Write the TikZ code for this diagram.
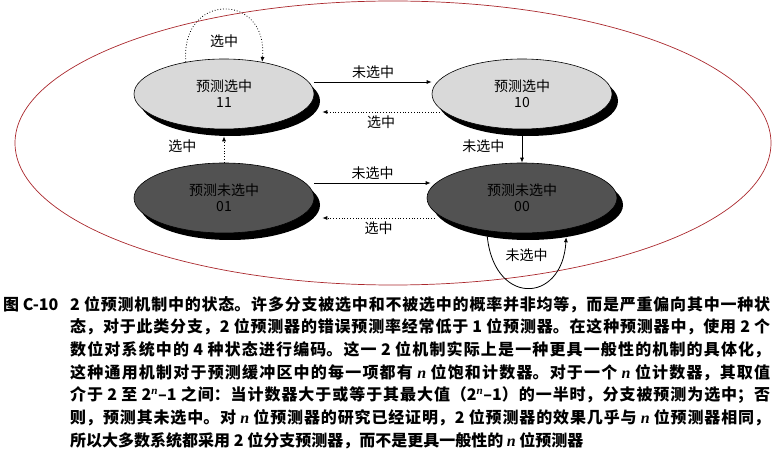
\documentclass[tikz,border=0pt]{standalone}
\usepackage{fontspec}
\setmainfont{Noto Sans CJK SC}
\newfontfamily\latinserif{Liberation Serif}
\usetikzlibrary{arrows.meta,shapes.geometric,shadows}

\XeTeXlinebreaklocale "zh"
\XeTeXlinebreakskip=0pt plus 3pt

\definecolor{rim}{RGB}{170,40,45}
\newcommand{\nbit}{{\latinserif\bfseries\itshape n}}

\tikzset{
  state/.style={ellipse, draw, line width=0.6pt, minimum width=180pt, minimum height=70pt,
    align=center, text=black, font=\fontsize{14}{16}\selectfont,
    drop shadow={shadow xshift=6pt, shadow yshift=-7pt, fill=black, opacity=1}},
  taken/.style={->, dotted, line width=0.8pt},
  nottaken/.style={->, line width=0.8pt},
}

\begin{document}
\begin{tikzpicture}[x=1pt, y=-1pt, >={Latex[length=5pt,width=4pt]}]
        \useasboundingbox (0,0) rectangle (774,465);

        % outline
        \draw[rim, line width=0.7pt] (393,143) ellipse [x radius=378, y radius=142];

        \begin{scope}[every node/.style={state}]
          \node[fill=black!15] (s11) at (224,94)  {预测选中\\11};
          \node[fill=black!15] (s10) at (522,94)  {预测选中\\10};
          \node[fill=black!68] (s01) at (224,198) {预测未选中\\01};
          \node[fill=black!68, minimum width=190pt] (s00) at (522,198) {预测未选中\\00};
        \end{scope}

        \begin{scope}[every node/.style={font=\fontsize{14}{16}\selectfont}]
          \path ([yshift=12pt]s11.east) edge[nottaken] node[above] {未选中} ([yshift=12pt]s10.west);
          \path ([xshift=8pt,yshift=-18pt]s10.west) edge[taken] node[below] {选中} ([xshift=8pt,yshift=-18pt]s11.east);
          \path ([yshift=15pt]s01.east) edge[nottaken] node[above] {未选中} ([xshift=4pt,yshift=15pt]s00.west);
          \path ([xshift=8pt,yshift=-20pt]s00.west) edge[taken] node[below] {选中} ([xshift=8pt,yshift=-20pt]s01.east);
          \path (s10.south) edge[nottaken] node[left, xshift=-14pt] {未选中} (s00.north);
          \path (s01.north) edge[taken, shorten >=7pt] node[left, xshift=-24pt] {选中} (s11.south);

          \draw[taken] (s11.140) .. controls +(-6,-70) and +(6,-70) .. (s11.40)
            node[midway, below, yshift=-22pt] {选中};
          \draw[nottaken, shorten >=8pt] (s00.223) .. controls +(4,76) and +(-4,76) .. (s00.325)
            node[midway, above, yshift=22pt] {未选中};
        \end{scope}

        % caption
        \node[anchor=base west, inner sep=0pt, font=\bfseries\fontsize{16}{20}\selectfont] (fig) at (3,310) {图 C-10};
        \node[anchor=north west, inner sep=0pt, text width=700pt, align=justify,
              font=\bfseries\fontsize{16}{22.7}\selectfont] (cap) at (70,296) {%
2 位预测机制中的状态。许多分支被选中和不被选中的概率并非均等，而是严重偏向其中一种状\linebreak
态，对于此类分支，2 位预测器的错误预测率经常低于 1 位预测器。在这种预测器中，使用 2 个\linebreak
数位对系统中的 4 种状态进行编码。这一 2 位机制实际上是一种更具一般性的机制的具体化，\linebreak
这种通用机制对于预测缓冲区中的每一项都有 \nbit{} 位饱和计数器。对于一个 \nbit{} 位计数器，其取值\linebreak
介于 2 至 2\textsuperscript{\nbit}–1 之间：当计数器大于或等于其最大值（2\textsuperscript{\nbit}–1）的一半时，分支被预测为选中；否\linebreak
则，预测其未选中。对 \nbit{} 位预测器的研究已经证明，2 位预测器的效果几乎与 \nbit{} 位预测器相同，\linebreak
所以大多数系统都采用 2 位分支预测器，而不是更具一般性的 \nbit{} 位预测器};

\end{tikzpicture}
\end{document}
